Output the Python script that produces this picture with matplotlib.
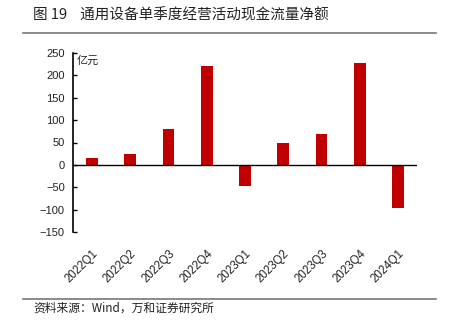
import matplotlib
matplotlib.use('Agg')
import matplotlib.pyplot as plt
from matplotlib.lines import Line2D

plt.rcParams['font.family'] = ['Noto Sans CJK SC', 'DejaVu Sans']

# 季度和现金流净额（亿元）
quarters = ['2022Q1', '2022Q2', '2022Q3', '2022Q4', '2023Q1',
            '2023Q2', '2023Q3', '2023Q4', '2024Q1']
net_cash = [15, 24, 80, 221, -47, 50, 70, 228, -97]
y_ticks = [-150, -100, -50, 0, 50, 100, 150, 200, 250]

fig = plt.figure(figsize=(4.51, 3.30), dpi=100)
ax = fig.add_axes([73/451, (330-232)/330, 344/451, (232-53)/330])

ax.bar(range(len(quarters)), net_cash, width=0.31, color='#C00000')
ax.axhline(0, color='black', lw=1.0)

ax.set_xlim(-0.5, len(quarters) - 0.5)
ax.set_ylim(-150, 250)
ax.set_yticks(y_ticks)
ax.set_yticklabels([str(v).replace('-', '\u2212') for v in y_ticks],
                   family=['Liberation Sans', 'DejaVu Sans'], fontsize=8, color='#222222')
ax.set_xticks(range(len(quarters)))
ax.set_xticklabels(quarters, rotation=45, ha='right', rotation_mode='anchor',
                   family=['Liberation Sans', 'DejaVu Sans'], fontsize=8.3, color='#222222')
ax.tick_params(axis='x', length=0, pad=11)
ax.tick_params(axis='y', direction='in', length=3, width=1, pad=6)

for s in ['top', 'right', 'bottom']:
    ax.spines[s].set_visible(False)
ax.spines['left'].set_linewidth(1.2)

ax.text(0.012, 0.985, '亿元', transform=ax.transAxes, fontsize=8,
        va='top', ha='left', color='#222222')

# 标题和来源
fig.text(33/451, 1 - 15/330, '图 19    通用设备单季度经营活动现金流量净额',
         fontsize=10.5, va='center', ha='left', color='#222222')
fig.add_artist(Line2D([23/451, 436/451], [1 - 33/330, 1 - 33/330],
                      color='#777777', lw=1.2, transform=fig.transFigure))
fig.add_artist(Line2D([23/451, 436/451], [1 - 299/330, 1 - 299/330],
                      color='#777777', lw=1.2, transform=fig.transFigure))
fig.text(33/451, 1 - 308/330, '资料来源：Wind，万和证券研究所',
         fontsize=8.5, va='center', ha='left', color='#222222')

fig.savefig('out.png', dpi=100)
